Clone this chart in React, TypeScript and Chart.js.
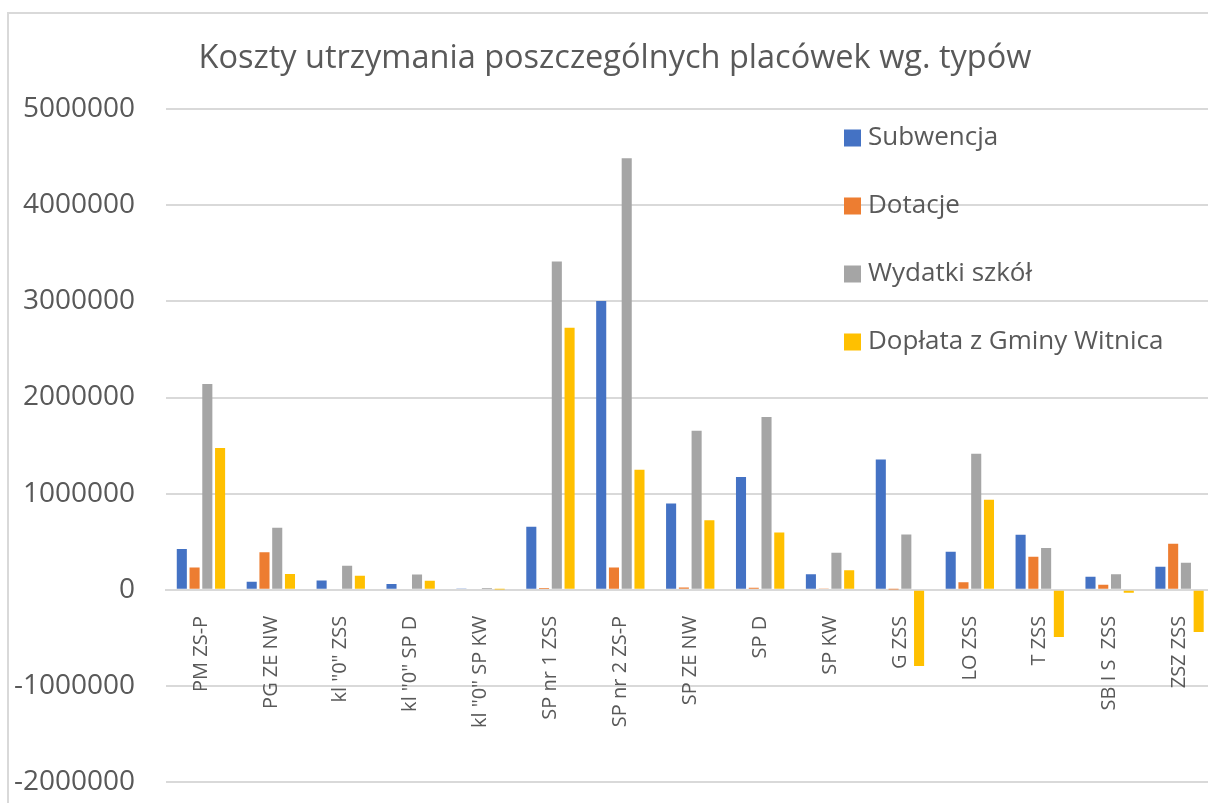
import React, { useEffect, useRef } from "react";
import { Chart, registerables } from "chart.js";

Chart.register(...registerables);

const categories = [
  "PM ZS-P",
  "PG ZE NW",
  'kl "0" ZSS',
  'kl "0" SP D',
  'kl "0" SP KW',
  "SP nr 1 ZSS",
  "SP nr 2 ZS-P",
  "SP ZE NW",
  "SP D",
  "SP KW",
  "G ZSS",
  "LO ZSS",
  "T ZSS",
  "SB I S  ZSS",
  "ZSZ ZSS",
];

const subwencja = [424000, 83000, 97000, 62000, 15000, 656000, 3004000, 898000, 1173000, 163000, 1356000, 395000, 572000, 135000, 239000];
const dotacje = [232000, 392000, 0, 0, 0, 20000, 232000, 24000, 21000, 10000, 3000, 80000, 343000, 52000, 479000];
const wydatki = [2140000, 645000, 250000, 160000, 20000, 3413000, 4488000, 1655000, 1797000, 385000, 576000, 1415000, 434000, 163000, 281000];
const doplata = [1474000, 166000, 146000, 94000, 5000, 2726000, 1249000, 725000, 597000, 205000, -791000, 937000, -489000, -31000, -437000];

const seriesLabels = ["Subwencja", "Dotacje", "Wydatki szkół", "Dopłata z Gminy Witnica"];
const seriesColors = ["#4472C4", "#ED7D31", "#A5A5A5", "#FFC000"];

const yTicks = [-2000000, -1000000, 0, 1000000, 2000000, 3000000, 4000000, 5000000];

const TITLE = "Koszty utrzymania poszczególnych placówek wg. typów";
const FONT = "'Open Sans', 'Noto Sans', sans-serif";
const TEXT = "#595959";
const GRID = "#d9d9d9";

export default function App() {
  const ref = useRef<HTMLCanvasElement>(null);

  useEffect(() => {
    if (!ref.current) return;
    const legendPlugin = {
      id: "sideLegend",
      afterDraw(chart: any) {
        const ctx = chart.ctx;
        ctx.save();
        ctx.font = `26px ${FONT}`;
        ctx.textBaseline = "middle";
        ctx.textAlign = "left";
        chart.data.datasets.forEach((ds: any, i: number) => {
          const cy = 138 + i * 68;
          ctx.fillStyle = ds.backgroundColor;
          ctx.fillRect(844, cy - 8.5, 17, 17);
          ctx.fillStyle = TEXT;
          ctx.fillText(ds.label, 868, cy);
        });
        ctx.restore();
      },
    };

    const seriesValues = [subwencja, dotacje, wydatki, doplata];

    const chart = new Chart(ref.current, {
      type: "bar",
      data: {
        labels: categories,
        datasets: seriesValues.map((vals, i) => ({
          label: seriesLabels[i],
          data: vals,
          backgroundColor: seriesColors[i],
          borderWidth: 0,
          categoryPercentage: 0.73,
          barPercentage: 0.79,
        })),
      },
      options: {
        animation: false,
        responsive: false,
        devicePixelRatio: 1,
        layout: { padding: { left: 14, right: 14, top: 0, bottom: 22 } },
        plugins: {
          legend: { display: false },
          tooltip: { enabled: false },
          title: {
            display: true,
            text: TITLE,
            color: TEXT,
            font: { family: FONT, size: 32.5, weight: "normal", lineHeight: 1.2 },
            padding: { top: 39, bottom: 31 },
          },
        },
        scales: {
          x: {
            position: { y: 0 } as any,
            grid: { display: false, drawTicks: false },
            border: { color: GRID, width: 2 },
            ticks: {
              autoSkip: false,
              maxRotation: 90,
              minRotation: 90,
              padding: 26,
              color: TEXT,
              font: { family: FONT, size: 20 },
            },
          },
          y: {
            min: yTicks[0],
            max: yTicks[yTicks.length - 1],
            afterBuildTicks: (scale: any) => {
              scale.ticks = yTicks.map((v) => ({ value: v }));
            },
            afterFit: (scale: any) => {
              scale.width = 152;
            },
            grid: { color: GRID, lineWidth: 2, drawTicks: false },
            border: { display: false },
            ticks: {
              padding: 31,
              color: TEXT,
              font: { family: FONT, size: 28 },
              callback: (v: any) => String(v),
            },
          },
        },
      },
      plugins: [legendPlugin],
    });
    return () => chart.destroy();
  }, []);

  return (
    <div style={{ position: "fixed", left: 0, top: 0, width: 1208, height: 803, overflow: "hidden", background: "#fff" }}>
      <div
        style={{
          position: "absolute",
          left: 7,
          top: 12,
          width: 1400,
          height: 1000,
          border: `2px solid ${GRID}`,
          boxSizing: "border-box",
        }}
      />
      <canvas
        ref={ref}
        width={1230}
        height={830}
        style={{ position: "absolute", left: 0, top: 0, width: 1230, height: 830, display: "block" }}
      />
    </div>
  );
}
